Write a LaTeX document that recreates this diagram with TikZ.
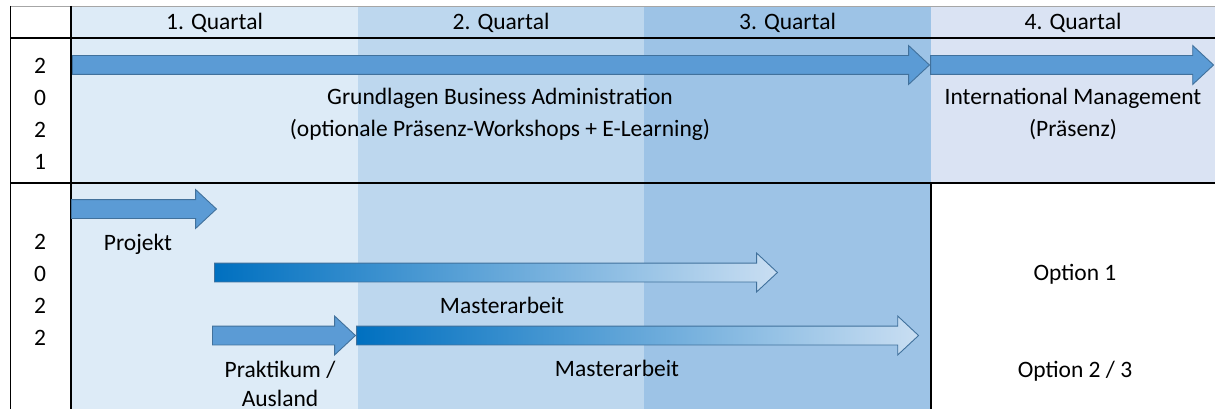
\documentclass[tikz,border=0pt]{standalone}
\usepackage{fontspec}
\setmainfont{Carlito}
\usetikzlibrary{shapes.arrows}

\definecolor{quartA}{HTML}{DDEBF7}
\definecolor{quartB}{HTML}{BDD7EE}
\definecolor{quartC}{HTML}{9DC3E6}
\definecolor{quartD}{HTML}{DAE3F3}
\definecolor{arrowfill}{HTML}{5B9BD5}
\definecolor{arrowline}{HTML}{41719C}
\definecolor{fadedark}{HTML}{0070C0}
\definecolor{fadelight}{HTML}{C9DEF2}

\tikzset{
  lbl/.style={inner sep=0pt, font=\fontsize{23.5}{32}\selectfont, align=center},
  blockarrow/.style={single arrow, draw=arrowline, fill=arrowfill, line width=0.9pt,
    inner xsep=0pt, inner ysep=9pt, single arrow head extend=10pt,
    single arrow tip angle=86, minimum width=38pt, anchor=tail},
  fadearrow/.style={blockarrow, left color=fadedark, right color=fadelight},
  gridline/.style={line width=1.8pt},
}

\begin{document}
\begin{tikzpicture}[x=1pt,y=-1pt]

\newcommand\QA{71}
\newcommand\QB{358}
\newcommand\QC{644}
\newcommand\QD{931}
\newcommand\QE{1215}
\newcommand\RA{6}
\newcommand\RB{38}
\newcommand\RC{183}
\newcommand\RD{409}

  \useasboundingbox (0,0) rectangle (1215,409);

  %% quarter columns
  \fill[quartA] (\QA,\RA) rectangle (\QB,\RD);
  \fill[quartB] (\QB,\RA) rectangle (\QC,\RD);
  \fill[quartC] (\QC,\RA) rectangle (\QD,\RD);
  \fill[quartD] (\QD,\RA) rectangle (\QE,\RC);

  %% grid
  \draw[gray!70, line width=0.8pt] (10,\RA) -- (\QE,\RA);
  \draw[line width=0.8pt] (10,\RA) -- (10,\RD);
  \draw[gridline] (10,\RB) -- (\QE,\RB);
  \draw[gridline] (10,\RC) -- (\QE,\RC);
  \draw[gridline] (\QA,\RA) -- (\QA,\RD);
  \draw[gridline] (\QD,\RC) -- (\QD,\RD); %% option column

  %% header
  \node[lbl, anchor=base] (qa) at (214.5,29.5) {1. Quartal};
  \node[lbl, anchor=base] (qb) at (501,29.5) {2. Quartal};
  \node[lbl, anchor=base] (qc) at (787.5,29.5) {3. Quartal};
  \node[lbl, anchor=base] (qd) at (1073,29.5) {4. Quartal};

  %% years
  \node[lbl] (ya) at (40,113.5) {2\\0\\2\\1};
  \node[lbl] (yb) at (40,290) {2\\0\\2\\2};

  %% 2021
  \node[blockarrow, minimum height=857pt] (gba) at (72,65) {};
  \node[blockarrow, minimum height=283pt] (intm) at (gba.tip) {};
  \node[lbl] (gbatext) at (500,114)
    {Grundlagen Business Administration\\(optionale Präsenz-Workshops + E-Learning)};
  \node[lbl] (intmtext) at (1073,114) {International Management\\(Präsenz)};

  %% 2022
  \node[blockarrow, minimum height=145pt] (proj) at (71,209) {};
  \node[lbl, anchor=base] (projtext) at (138,250) {Projekt};

  \node[fadearrow, minimum height=563pt] (maa) at (214,272.5) {};
  \node[lbl, anchor=base] (maatext) at (502,313.5) {Masterarbeit};

  \node[blockarrow, minimum height=143pt] (prak) at (212,335.5) {};
  \node[fadearrow, minimum height=562pt] (mab) at (prak.tip) {};
  \node[lbl] (praktext) at (280,383.5) {Praktikum /\\[-3pt]Ausland};
  \node[lbl, anchor=base] (mabtext) at (617,376.5) {Masterarbeit};

  %% options
  \node[lbl, anchor=base] (opta) at (1075,280.5) {Option 1};
  \node[lbl, anchor=base] (optb) at (1075,377.5) {Option 2 / 3};

\end{tikzpicture}
\end{document}
